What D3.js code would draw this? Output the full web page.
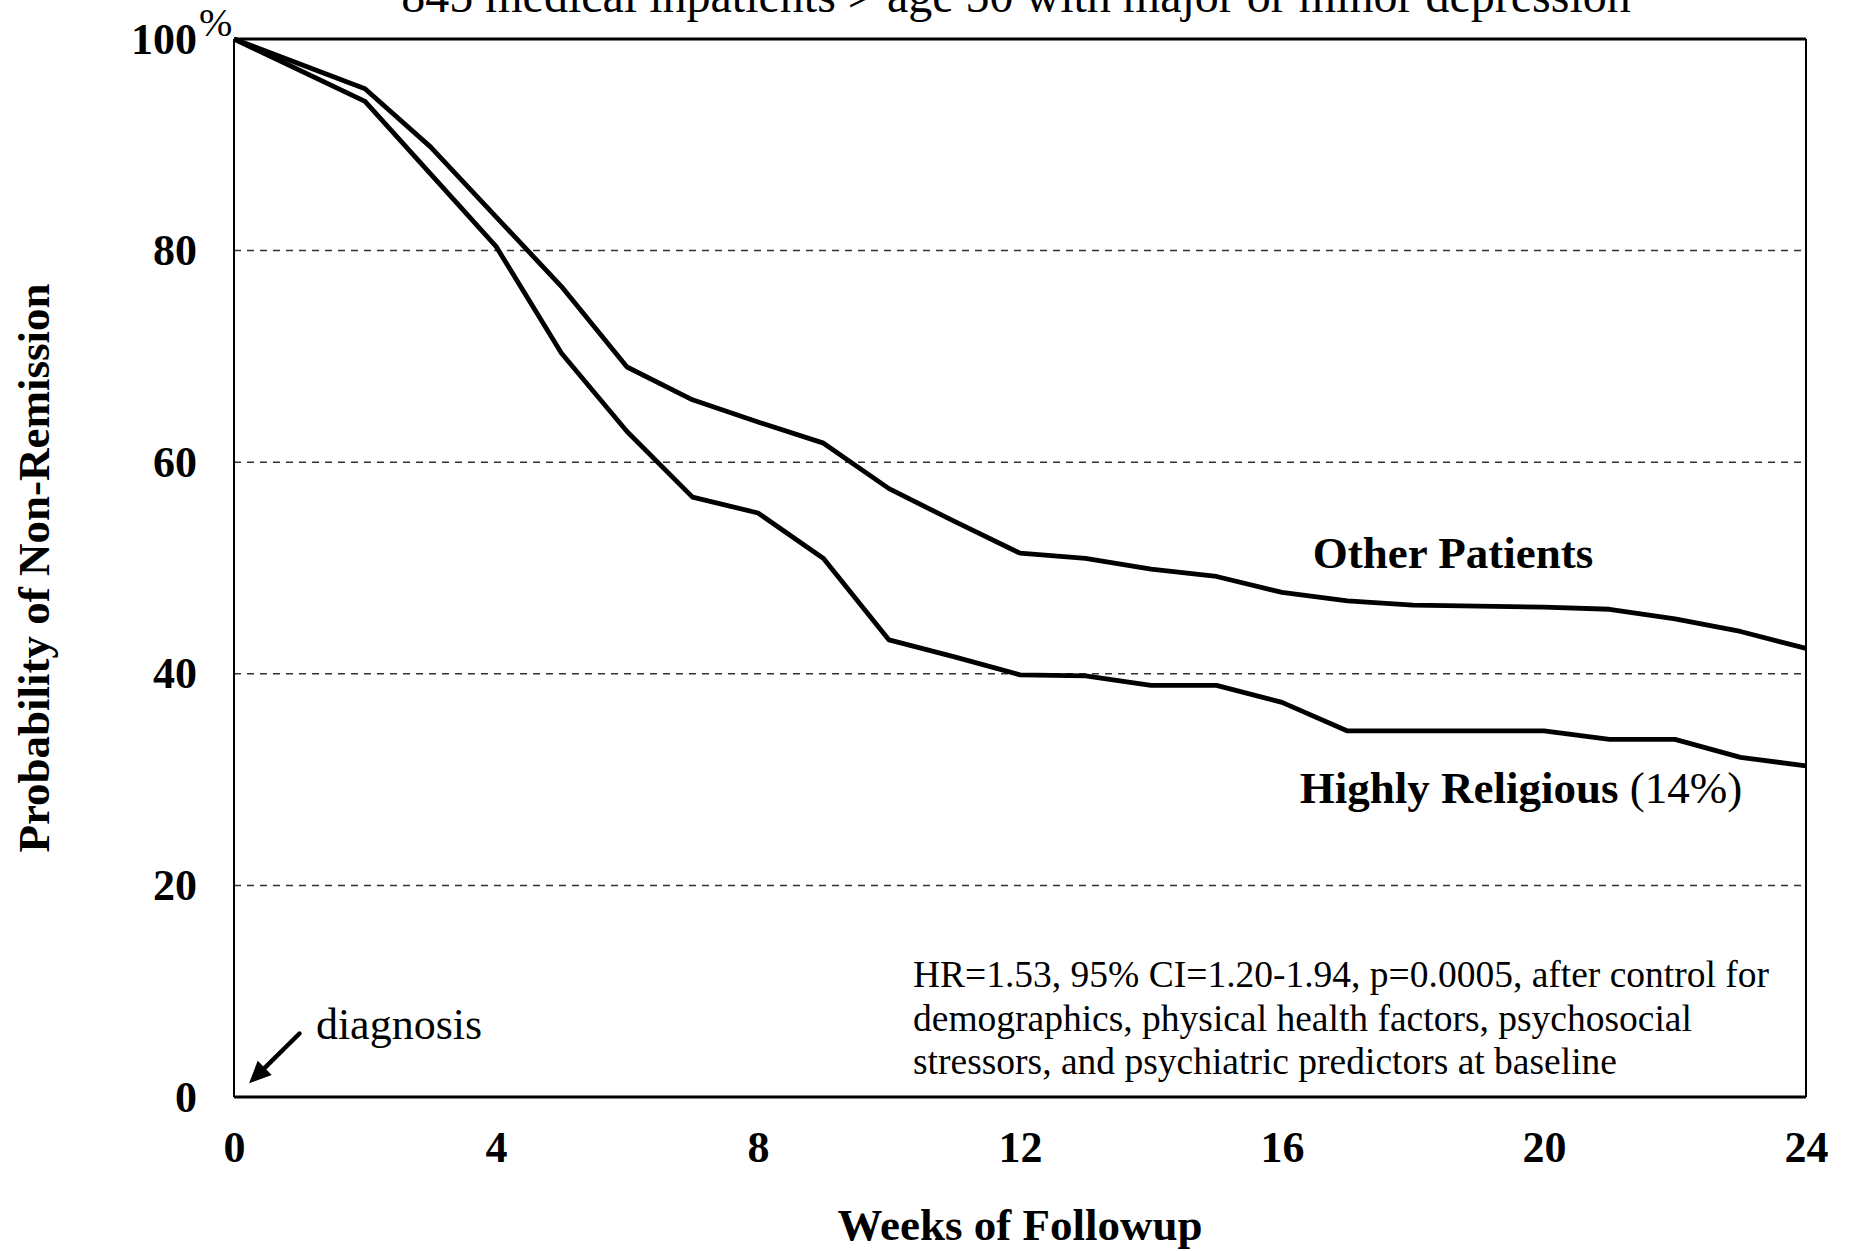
<!DOCTYPE html>
<html>
<head>
<meta charset="utf-8">
<script src="https://cdn.jsdelivr.net/npm/d3@7"></script>
<style>
  html, body { margin: 0; padding: 0; background: #fff; }
  svg { display: block; font-family: 'Liberation Serif', 'Times New Roman', serif; }
</style>
</head>
<body>
<script>
// values (weeks of followup, % not remitted)
const otherWeeks = [0, 2, 3, 5, 6, 7, 8, 9, 10, 11, 12, 13, 14, 15, 16, 17, 18, 19, 20, 21, 22, 23, 24];
const otherValues = [100, 95.3, 89.8, 76.6, 69.0, 65.9, 63.8, 61.8, 57.5, 54.4, 51.4, 50.9, 49.9, 49.2, 47.7, 46.9, 46.5, 46.4, 46.3, 46.1, 45.2, 44.0, 42.4];

const religiousWeeks = [0, 2, 4, 5, 6, 7, 8, 9, 10, 11, 12, 13, 14, 15, 16, 17, 18, 19, 20, 21, 22, 23, 24];
const religiousValues = [100, 94.1, 80.4, 70.3, 62.9, 56.7, 55.2, 50.9, 43.2, 41.6, 39.9, 39.8, 38.9, 38.9, 37.3, 34.6, 34.6, 34.6, 34.6, 33.8, 33.8, 32.1, 31.3];

const xTicks = [0, 4, 8, 12, 16, 20, 24];
const yTicks = [0, 20, 40, 60, 80, 100];
const gridTicks = [20, 40, 60, 80];

const titleText = '845 medical inpatients > age 50 with major or minor depression';
const noteLines = [
  'HR=1.53, 95% CI=1.20-1.94, p=0.0005, after control for',
  'demographics, physical health factors, psychosocial',
  'stressors, and psychiatric predictors at baseline'
];

const width = 1851;
const height = 1251;
const margin = { top: 39, right: 45, bottom: 154, left: 234 };
const innerW = width - margin.left - margin.right;
const innerH = height - margin.top - margin.bottom;

const svg = d3.select('body')
  .append('svg')
  .attr('width', width)
  .attr('height', height);

const g = svg.append('g')
  .attr('transform', `translate(${margin.left},${margin.top})`);

const x = d3.scaleLinear().domain([0, 24]).range([0, innerW]);
const y = d3.scaleLinear().domain([0, 100]).range([innerH, 0]);

// dashed gridlines
g.selectAll('.grid')
  .data(gridTicks)
  .enter()
  .append('line')
  .attr('x1', 0)
  .attr('x2', innerW)
  .attr('y1', (d) => y(d))
  .attr('y2', (d) => y(d))
  .attr('stroke', '#333')
  .attr('stroke-width', 1.5)
  .attr('stroke-dasharray', '7,6');

// frame
g.append('line').attr('x1', 0).attr('x2', innerW).attr('y1', 0).attr('y2', 0)
  .attr('stroke', '#000').attr('stroke-width', 3);
g.append('line').attr('x1', innerW).attr('x2', innerW).attr('y1', 0).attr('y2', innerH)
  .attr('stroke', '#000').attr('stroke-width', 2);
g.append('line').attr('x1', 0).attr('x2', 0).attr('y1', 0).attr('y2', innerH)
  .attr('stroke', '#000').attr('stroke-width', 2);
g.append('line').attr('x1', 0).attr('x2', innerW).attr('y1', innerH).attr('y2', innerH)
  .attr('stroke', '#000').attr('stroke-width', 3);

// axes, labels only
const xAxis = g.append('g')
  .attr('transform', `translate(0,${innerH})`)
  .call(d3.axisBottom(x).tickValues(xTicks).tickSize(0).tickPadding(34));

const yAxis = g.append('g')
  .call(d3.axisLeft(y).tickValues(yTicks).tickSize(0).tickPadding(37));

[xAxis, yAxis].forEach((ax) => {
  ax.select('.domain').remove();
  ax.attr('font-family', null)
    .attr('font-size', 44)
    .attr('font-weight', 'bold');
  ax.selectAll('text').attr('fill', '#000');
});

// the "%" riding on the 100
yAxis.selectAll('.tick')
  .filter((d) => d === 100)
  .append('text')
  .attr('x', -35)
  .attr('y', -4)
  .attr('font-size', 40)
  .attr('font-weight', 'normal')
  .attr('fill', '#000')
  .attr('text-anchor', 'start')
  .text('%');

// curves
const line = d3.line()
  .x((d) => x(d[0]))
  .y((d) => y(d[1]));

const series = [
  d3.zip(otherWeeks, otherValues),
  d3.zip(religiousWeeks, religiousValues)
];

g.selectAll('.curve')
  .data(series)
  .enter()
  .append('path')
  .attr('d', line)
  .attr('fill', 'none')
  .attr('stroke', '#000')
  .attr('stroke-width', 4.8)
  .attr('stroke-linejoin', 'round');

// title (cropped at the top in the original)
svg.append('text')
  .attr('x', 1016)
  .attr('y', 12)
  .attr('text-anchor', 'middle')
  .attr('font-size', 48)
  .text(titleText);

// axis titles
svg.append('text')
  .attr('x', margin.left + innerW / 2)
  .attr('y', 1240)
  .attr('text-anchor', 'middle')
  .attr('font-size', 45)
  .attr('font-weight', 'bold')
  .text('Weeks of Followup');

svg.append('text')
  .attr('transform', `translate(49,${margin.top + innerH / 2}) rotate(-90)`)
  .attr('text-anchor', 'middle')
  .attr('font-size', 45)
  .attr('font-weight', 'bold')
  .text('Probability of Non-Remission');

// curve labels
g.append('text')
  .attr('x', x(16.47))
  .attr('y', y(50.0))
  .attr('font-size', 45)
  .attr('font-weight', 'bold')
  .text('Other Patients');

const relLabel = g.append('text')
  .attr('x', x(16.27))
  .attr('y', y(27.8))
  .attr('font-size', 45);
relLabel.append('tspan').attr('font-weight', 'bold').text('Highly Religious');
relLabel.append('tspan').text(' (14%)');

// diagnosis arrow
const arrowFrom = [1.0, 6.0];
const arrowTo = [0.23, 1.3];
const ax0 = x(arrowFrom[0]), ay0 = y(arrowFrom[1]);
const ax1 = x(arrowTo[0]), ay1 = y(arrowTo[1]);
const ang = Math.atan2(ay1 - ay0, ax1 - ax0);
const headLen = 22, headW = 10;
const bx = ax1 - headLen * Math.cos(ang), by = ay1 - headLen * Math.sin(ang);

g.append('line')
  .attr('x1', ax0).attr('y1', ay0)
  .attr('x2', bx).attr('y2', by)
  .attr('stroke', '#000')
  .attr('stroke-width', 4.5)
  .attr('stroke-linecap', 'round');

g.append('path')
  .attr('d', `M${ax1},${ay1}L${bx + headW * Math.sin(ang)},${by - headW * Math.cos(ang)}L${bx - headW * Math.sin(ang)},${by + headW * Math.cos(ang)}Z`)
  .attr('fill', '#000');

g.append('text')
  .attr('x', x(1.25))
  .attr('y', y(5.5))
  .attr('font-size', 44)
  .text('diagnosis');

// model note
g.append('text')
  .attr('font-size', 37.5)
  .selectAll('tspan')
  .data(noteLines)
  .enter()
  .append('tspan')
  .attr('x', 679)
  .attr('y', (d, i) => 948 + i * 43.5)
  .text((d) => d);
</script>
</body>
</html>
